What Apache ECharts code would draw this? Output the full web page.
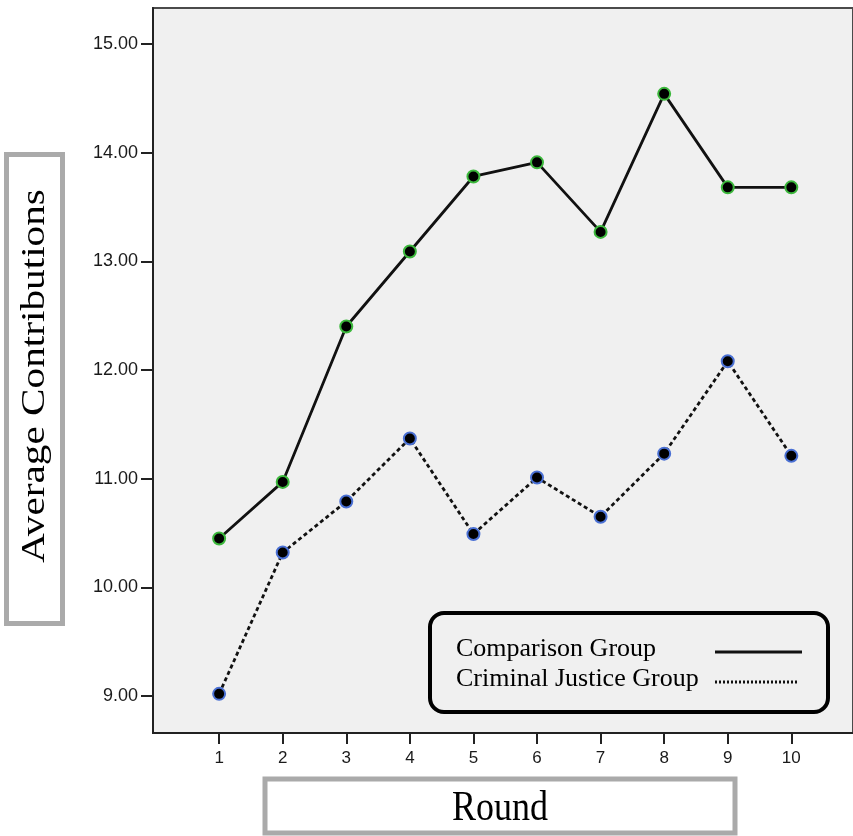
<!DOCTYPE html>
<html><head><meta charset="utf-8">
<script src="https://cdn.jsdelivr.net/npm/echarts@6/dist/echarts.min.js"></script>
<style>html,body{margin:0;padding:0;background:#fff}#c{width:853px;height:836px}</style>
</head><body><div id="c"></div>
<script>
const rounds = [1, 2, 3, 4, 5, 6, 7, 8, 9, 10];
const comparison = [10.45, 10.97, 12.40, 13.09, 13.78, 13.91, 13.27, 14.54, 13.68, 13.68];
const criminal = [9.02, 10.32, 10.79, 11.37, 10.49, 11.01, 10.65, 11.23, 12.08, 11.21];
const yTicks = [9, 10, 11, 12, 13, 14, 15];
const xTicks = [1, 2, 3, 4, 5, 6, 7, 8, 9, 10];
const seriesNames = ['Comparison Group', 'Criminal Justice Group'];
const xTitle = 'Round';
const yTitle = 'Average Contributions';

const chart = echarts.init(document.getElementById('c'), null, {renderer: 'canvas'});
const serif = '"Liberation Serif", "Times New Roman", serif';
const sans = '"Liberation Sans", Arial, sans-serif';

const option = {
  animation: false,
  backgroundColor: '#ffffff',
  grid: {
    left: 153, top: 8, width: 701, height: 725,
    show: true, backgroundColor: '#f0f0f0', borderColor: '#4a4a4a', borderWidth: 2
  },
  xAxis: {
    type: 'value', min: -0.04, max: 10.97,
    splitLine: {show: false},
    axisLine: {show: true, onZero: false, lineStyle: {color: '#222', width: 2}},
    axisTick: {show: true, length: 11, customValues: xTicks, lineStyle: {color: '#222', width: 2}},
    axisLabel: {customValues: xTicks, margin: 17, color: '#1a1a1a', fontFamily: sans, fontSize: 17}
  },
  yAxis: {
    type: 'value', min: 8.66, max: 15.33,
    splitLine: {show: false},
    axisLine: {show: true, onZero: false, lineStyle: {color: '#222', width: 2}},
    axisTick: {show: true, length: 12, customValues: yTicks, lineStyle: {color: '#222', width: 2}},
    axisLabel: {customValues: yTicks, margin: 15, color: '#1a1a1a', fontFamily: sans, fontSize: 18,
      formatter: v => Number(v).toFixed(2)}
  },
  series: [
    {
      name: seriesNames[0], type: 'line',
      data: rounds.map((r, i) => [r, comparison[i]]),
      symbol: 'circle', symbolSize: 12,
      lineStyle: {color: '#111', width: 2.8, type: 'solid'},
      itemStyle: {color: '#000', borderColor: '#3cb83c', borderWidth: 2},
      z: 3
    },
    {
      name: seriesNames[1], type: 'line',
      data: rounds.map((r, i) => [r, criminal[i]]),
      symbol: 'circle', symbolSize: 12,
      lineStyle: {color: '#111', width: 2.8, type: [4, 3]},
      itemStyle: {color: '#000', borderColor: '#4a70d4', borderWidth: 2},
      z: 3
    }
  ],
  graphic: [
    {type: 'rect', shape: {x: 6.5, y: 154.5, width: 56, height: 469},
     style: {fill: '#fff', stroke: '#aaaaaa', lineWidth: 5}},
    {type: 'text', x: 35, y: 376, rotation: Math.PI / 2, scaleX: 1.25,
     style: {text: yTitle, font: '33px ' + serif, fill: '#000', textAlign: 'center', textVerticalAlign: 'middle'}},
    {type: 'rect', shape: {x: 265, y: 779, width: 470, height: 54},
     style: {fill: '#fff', stroke: '#aaaaaa', lineWidth: 5}},
    {type: 'text', x: 500, y: 809, scaleY: 1.15,
     style: {text: xTitle, font: '36px ' + serif, fill: '#000', textAlign: 'center', textVerticalAlign: 'middle'}},
    {type: 'rect', z: 10, shape: {x: 430, y: 613, width: 398, height: 99, r: 14},
     style: {fill: 'rgba(0,0,0,0)', stroke: '#000', lineWidth: 4}},
    {type: 'text', z: 10, x: 456, y: 649,
     style: {text: seriesNames[0], font: '26px ' + serif, fill: '#000', textAlign: 'left', textVerticalAlign: 'middle'}},
    {type: 'text', z: 10, x: 456, y: 679,
     style: {text: seriesNames[1], font: '26px ' + serif, fill: '#000', textAlign: 'left', textVerticalAlign: 'middle'}},
    {type: 'line', z: 10, shape: {x1: 715, y1: 652, x2: 802, y2: 652},
     style: {stroke: '#111', lineWidth: 3}},
    {type: 'line', z: 10, shape: {x1: 715, y1: 682, x2: 798, y2: 682},
     style: {stroke: '#111', lineWidth: 3, lineDash: [2, 2]}}
  ]
};
chart.setOption(option);
</script>
</body></html>
